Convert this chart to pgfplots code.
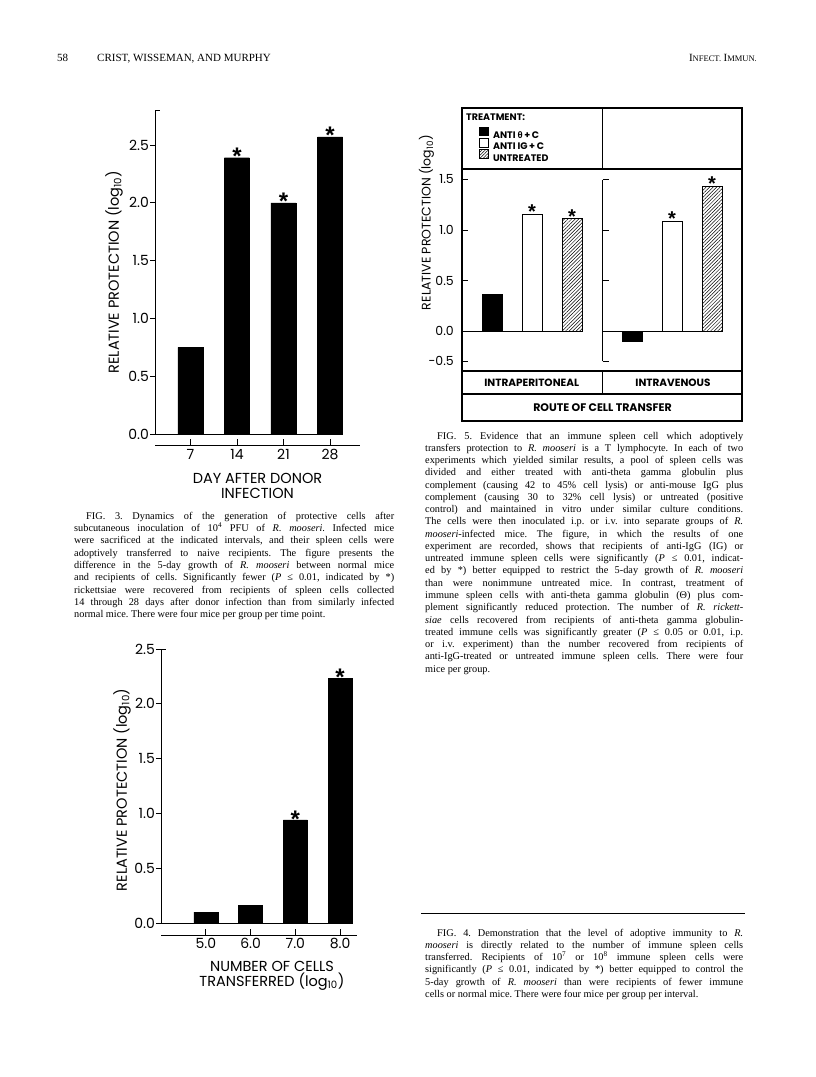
\documentclass[border=0pt]{standalone}
\usepackage{fontspec}
\setmainfont{Liberation Serif}
\newfontfamily\chartfont{Poppins}
\newfontfamily\arialfont{Liberation Sans}
\usepackage{pgfplots}
\pgfplotsset{compat=1.18}
\usetikzlibrary{patterns.meta}

\newcommand\capfont{\fontsize{10.3}{12}\selectfont\frenchspacing}
\newcommand\CL[4]{\node[anchor=base west,inner sep=0pt,font=\capfont] at (#1,{-(#2)}) {\makebox[#3pt][s]{#4}};}
\newcommand\CLL[3]{\node[anchor=base west,inner sep=0pt,font=\capfont] at (#1,{-(#2)}) {#3};}
\newcommand\bigstar{\arialfont\bfseries\fontsize{24}{24}\selectfont}
\newcommand\smallstar{\arialfont\bfseries\fontsize{20}{20}\selectfont}
\newcommand\tickfont{\chartfont\fontsize{14}{14}\selectfont}
\newcommand\labfont{\chartfont\fontsize{14.5}{15}\selectfont}

\pgfplotsset{
  barax/.style={scale only axis, anchor=south west, clip=false,
    axis line style={line width=0.9pt, black},
    tick style={line width=0.9pt, black}},
}

\begin{document}
\begin{tikzpicture}[x=1pt,y=1pt]
\path[use as bounding box] (0,0) rectangle (816,-1077);

% ---------------- header ----------------
\node[anchor=base west,inner sep=0pt,font=\fontsize{11}{11}\selectfont] at (57,-61) {58};
\node[anchor=base west,inner sep=0pt,font=\fontsize{11}{11}\selectfont] at (97,-61) {CRIST, WISSEMAN, AND MURPHY};
\node[anchor=base east,inner sep=0pt] at (757,-61) {{\fontsize{11}{11}\selectfont I}{\fontsize{8.5}{8.5}\selectfont NFECT.} {\fontsize{11}{11}\selectfont I}{\fontsize{8.5}{8.5}\selectfont MMUN.}};

% ---------------- FIG 3 ----------------
\begin{axis}[barax, at={(155pt,-434pt)}, width=205pt, height=323.7pt,
  xmin=0.237, xmax=4.645, ymin=0, ymax=2.8,
  axis y line*=left, axis x line=none, tick align=outside, major tick length=5pt,
  ytick={0,0.5,1,1.5,2,2.5}, yticklabels={0.0,0.5,1.0,1.5,2.0,2.5},
  yticklabel style={font=\tickfont, inner sep=1pt},
  ylabel={RELATIVE PROTECTION (log\textsubscript{10})},
  ylabel style={font=\labfont, at={(axis description cs:-0.2,0.5)}, anchor=center}]
\addplot[ybar, bar shift=0pt, bar width=25pt, fill=black, draw=black] coordinates {(1,0.75) (2,2.39) (3,2.00) (4,2.57)};
\addplot[ybar, bar shift=0pt, bar width=25pt, draw=none, fill=none, nodes near coords={*},
  every node near coord/.append style={font=\bigstar, anchor=south, inner sep=0pt, yshift=-6.6pt}] coordinates {(2,2.39) (3,2.00) (4,2.57)};
\addplot[black, mark=none, line width=0.9pt] coordinates {(0.237,0) (4.27,0)};
\draw[line width=0.9pt] (rel axis cs:0,1) -- ++(5pt,0pt);
\end{axis}
\begin{axis}[barax, at={(155pt,-445pt)}, width=205pt, height=5pt,
  xmin=0.237, xmax=4.645, ymin=0, ymax=1,
  axis x line*=bottom, axis y line=none, ytick=\empty,
  tick align=inside, major tick length=6pt,
  xtick={1,2,3,4}, xticklabels={7,14,21,28},
  xticklabel style={font=\tickfont, inner sep=0pt, yshift=-4pt},
  xlabel={DAY AFTER DONOR\\INFECTION},
  xlabel style={font=\labfont, align=center, at={(axis description cs:0.5,0)}, anchor=north, inner sep=0pt, yshift=-28pt}]
\end{axis}

% ---------------- FIG 4 ----------------
\begin{axis}[barax, at={(161pt,-923pt)}, width=196pt, height=274pt,
  xmin=0, xmax=4.377, ymin=0, ymax=2.5,
  axis y line*=left, axis x line=none, tick align=outside, major tick length=5pt,
  ytick={0,0.5,1,1.5,2,2.5}, yticklabels={0.0,0.5,1.0,1.5,2.0,2.5},
  yticklabel style={font=\tickfont, inner sep=1pt},
  ylabel={RELATIVE PROTECTION (log\textsubscript{10})},
  ylabel style={font=\labfont, at={(axis description cs:-0.199,0.486)}, anchor=center}]
\addplot[ybar, bar shift=0pt, bar width=24pt, fill=black, draw=black] coordinates {(1,0.10) (2,0.16) (3,0.94) (4,2.23)};
\addplot[ybar, bar shift=0pt, bar width=24pt, draw=none, fill=none, nodes near coords={*},
  every node near coord/.append style={font=\bigstar, anchor=south, inner sep=0pt, yshift=-7.5pt}] coordinates {(3,0.94) (4,2.23)};
\addplot[black, mark=none, line width=0.9pt] coordinates {(0,0) (4.27,0)};
\draw[line width=0.9pt] (rel axis cs:0,1) -- ++(5pt,0pt);
\end{axis}
\begin{axis}[barax, at={(161pt,-935pt)}, width=196pt, height=5pt,
  xmin=0, xmax=4.377, ymin=0, ymax=1,
  axis x line*=bottom, axis y line=none, ytick=\empty,
  tick align=inside, major tick length=6pt,
  xtick={1,2,3,4}, xticklabels={5.0,6.0,7.0,8.0},
  xticklabel style={font=\tickfont, inner sep=0pt, yshift=-3pt},
  xlabel={NUMBER OF CELLS\\TRANSFERRED (log\textsubscript{10})},
  xlabel style={font=\labfont, align=center, at={(axis description cs:0.566,0)}, anchor=north, inner sep=0pt, yshift=-26pt}]
\end{axis}

% ---------------- FIG 5 ----------------
\draw[line width=1.1pt] (462,-108) rectangle (742,-421);
\draw[line width=1.1pt] (462,-169) -- (742,-169);
\draw[line width=1.1pt] (462,-371) -- (742,-371);
\draw[line width=1.1pt] (462,-394) -- (742,-394);
\draw[line width=1.1pt] (602.5,-108) -- (602.5,-169);
\draw[line width=1.1pt] (602.5,-371) -- (602.5,-394);
\node[anchor=west, inner sep=0pt, font=\chartfont\bfseries\fontsize{9.5}{9.5}\selectfont] at (466,-117) {TREATMENT:};
\node[inner sep=0pt, font=\chartfont\bfseries\fontsize{10.5}{10.5}\selectfont] at (531.7,-383) {INTRAPERITONEAL};
\node[inner sep=0pt, font=\chartfont\bfseries\fontsize{10.5}{10.5}\selectfont] at (673,-383) {INTRAVENOUS};
\node[inner sep=0pt, font=\chartfont\bfseries\fontsize{11}{11}\selectfont] at (602.5,-408) {ROUTE OF CELL TRANSFER};

\begin{axis}[barax, at={(462pt,-361.3pt)}, width=140.5pt, height=181.8pt,
  xmin=0.25, xmax=3.7625, ymin=-0.3, ymax=1.5,
  axis y line*=left, axis x line=none, tick align=inside, major tick length=6pt,
  ytick={-0.3,0,0.5,1,1.5}, yticklabels={-0.5,0.0,0.5,1.0,1.5},
  yticklabel style={font=\chartfont\fontsize{12.5}{12.5}\selectfont, inner sep=0pt, xshift=-8pt},
  ylabel={RELATIVE PROTECTION (log\textsubscript{10})},
  ylabel style={font=\chartfont\fontsize{12.5}{12.5}\selectfont, at={(axis description cs:-0.252,0.763)}, anchor=center},
  legend image code/.code={\draw[#1] (0pt,-0.5pt) rectangle (9pt,8pt);},
  legend style={at={(axis description cs:0.121,1.292)}, anchor=north west, draw=none, fill=none,
    inner sep=0pt, row sep=-1.5pt, font=\chartfont\bfseries\fontsize{9.5}{9.5}\selectfont,
    nodes={inner sep=1pt, text height=7pt, text depth=0pt},
    /tikz/every odd column/.append style={column sep=3pt}},
  legend cell align=left]
\addlegendimage{fill=black, draw=black, line width=0.8pt}
\addlegendentry{ANTI {\arialfont θ}\,+\,C}
\addlegendimage{fill=white, draw=black, line width=0.8pt}
\addlegendentry{ANTI IG\,+\,C}
\addlegendimage{pattern={Lines[angle=45,distance=2.2pt,line width=0.5pt]}, draw=black, line width=0.8pt}
\addlegendentry{UNTREATED}
\addplot[forget plot, ybar, bar shift=0pt, bar width=20pt, fill=black, draw=black, line width=0.8pt] coordinates {(1,0.36)};
\addplot[forget plot, ybar, bar shift=0pt, bar width=20pt, fill=white, draw=black, line width=0.8pt] coordinates {(2,1.155)};
\addplot[forget plot, ybar, bar shift=0pt, bar width=20pt, pattern={Lines[angle=45,distance=2.5pt,line width=0.5pt]}, draw=black, line width=0.8pt] coordinates {(3,1.11)};
\addplot[forget plot, ybar, bar shift=0pt, bar width=20pt, draw=none, fill=none, nodes near coords={*},
  every node near coord/.append style={font=\smallstar, anchor=south, inner sep=0pt, yshift=-4.4pt}] coordinates {(2,1.155) (3,1.11)};
\addplot[forget plot, black, mark=none, line width=0.9pt] coordinates {(0.25,0) (3.26,0)};
\end{axis}

\begin{axis}[barax, at={(602.5pt,-361.3pt)}, width=139.5pt, height=181.8pt,
  xmin=0.2625, xmax=3.75, ymin=-0.3, ymax=1.5,
  axis y line*=left, axis x line=none, tick align=inside, major tick length=6pt,
  ytick={-0.3,0,0.5,1,1.5}, yticklabels={}]
\addplot[ybar, bar shift=0pt, bar width=20pt, fill=black, draw=black, line width=0.8pt] coordinates {(1,-0.10)};
\addplot[ybar, bar shift=0pt, bar width=20pt, fill=white, draw=black, line width=0.8pt] coordinates {(2,1.09)};
\addplot[ybar, bar shift=0pt, bar width=20pt, pattern={Lines[angle=45,distance=2.5pt,line width=0.5pt]}, draw=black, line width=0.8pt] coordinates {(3,1.43)};
\addplot[ybar, bar shift=0pt, bar width=20pt, draw=none, fill=none, nodes near coords={*},
  every node near coord/.append style={font=\smallstar, anchor=south, inner sep=0pt, yshift=-4.4pt}] coordinates {(2,1.09) (3,1.43)};
\addplot[black, mark=none, line width=0.9pt] coordinates {(0.2625,0) (3.26,0)};
\end{axis}

% ---------------- captions ----------------
% FIG 3
\CL{86}{519}{308}{FIG. 3. Dynamics of the generation of protective cells after}
\CL{74}{519+12.35*1}{320}{subcutaneous inoculation of 10\textsuperscript{4} PFU of \textit{R. mooseri}. Infected mice}
\CL{74}{519+12.35*2}{320}{were sacrificed at the indicated intervals, and their spleen cells were}
\CL{74}{519+12.35*3}{320}{adoptively transferred to naive recipients. The figure presents the}
\CL{74}{519+12.35*4}{320}{difference in the 5-day growth of \textit{R. mooseri} between normal mice}
\CL{74}{519+12.35*5}{320}{and recipients of cells. Significantly fewer (\textit{P} ≤ 0.01, indicated by *)}
\CL{74}{519+12.35*6}{320}{rickettsiae were recovered from recipients of spleen cells collected}
\CL{74}{519+12.35*7}{320}{14 through 28 days after donor infection than from similarly infected}
\CLL{74}{519+12.35*8}{normal mice. There were four mice per group per time point.}

% FIG 5
\CL{437}{439}{306}{FIG. 5. Evidence that an immune spleen cell which adoptively}
\CL{425}{439+12.27*1}{318}{transfers protection to \textit{R. mooseri} is a T lymphocyte. In each of two}
\CL{425}{439+12.27*2}{318}{experiments which yielded similar results, a pool of spleen cells was}
\CL{425}{439+12.27*3}{318}{divided and either treated with anti-theta gamma globulin plus}
\CL{425}{439+12.27*4}{318}{complement (causing 42 to 45\% cell lysis) or anti-mouse IgG plus}
\CL{425}{439+12.27*5}{318}{complement (causing 30 to 32\% cell lysis) or untreated (positive}
\CL{425}{439+12.27*6}{318}{control) and maintained in vitro under similar culture conditions.}
\CL{425}{439+12.27*7}{318}{The cells were then inoculated i.p. or i.v. into separate groups of \textit{R.}}
\CL{425}{439+12.27*8}{318}{\textit{mooseri}-infected mice. The figure, in which the results of one}
\CL{425}{439+12.27*9}{318}{experiment are recorded, shows that recipients of anti-IgG (IG) or}
\CL{425}{439+12.27*10}{318}{untreated immune spleen cells were significantly (\textit{P} ≤ 0.01, indicat-}
\CL{425}{439+12.27*11}{318}{ed by *) better equipped to restrict the 5-day growth of \textit{R. mooseri}}
\CL{425}{439+12.27*12}{318}{than were nonimmune untreated mice. In contrast, treatment of}
\CL{425}{439+12.27*13}{318}{immune spleen cells with anti-theta gamma globulin (Θ) plus com-}
\CL{425}{439+12.27*14}{318}{plement significantly reduced protection. The number of \textit{R. rickett-}}
\CL{425}{439+12.27*15}{318}{\textit{siae} cells recovered from recipients of anti-theta gamma globulin-}
\CL{425}{439+12.27*16}{318}{treated immune cells was significantly greater (\textit{P} ≤ 0.05 or 0.01, i.p.}
\CL{425}{439+12.27*17}{318}{or i.v. experiment) than the number recovered from recipients of}
\CL{425}{439+12.27*18}{318}{anti-IgG-treated or untreated immune spleen cells. There were four}
\CLL{425}{439+12.27*19}{mice per group.}

% FIG 4
\draw[line width=0.7pt] (421,-913) -- (745,-913);
\CL{437}{936}{306}{FIG. 4. Demonstration that the level of adoptive immunity to \textit{R.}}
\CL{425}{936+12.3*1}{318}{\textit{mooseri} is directly related to the number of immune spleen cells}
\CL{425}{936+12.3*2}{318}{transferred. Recipients of 10\textsuperscript{7} or 10\textsuperscript{8} immune spleen cells were}
\CL{425}{936+12.3*3}{318}{significantly (\textit{P} ≤ 0.01, indicated by *) better equipped to control the}
\CL{425}{936+12.3*4}{318}{5-day growth of \textit{R. mooseri} than were recipients of fewer immune}
\CLL{425}{936+12.3*5}{cells or normal mice. There were four mice per group per interval.}
\end{tikzpicture}
\end{document}
